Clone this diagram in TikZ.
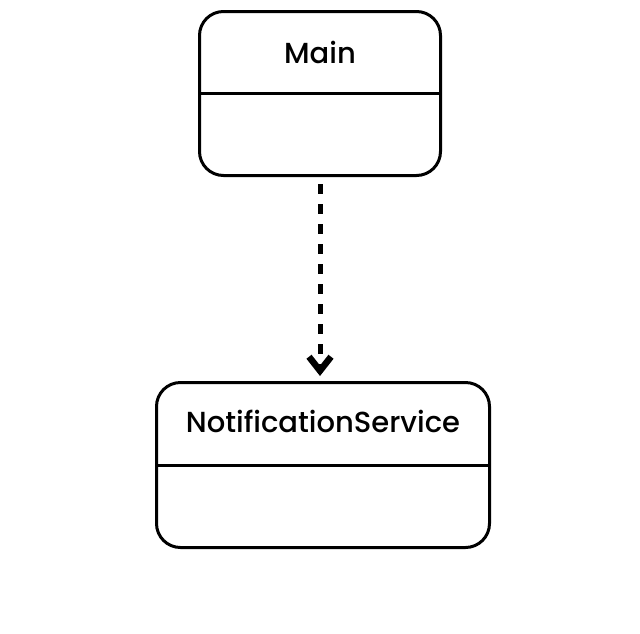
\documentclass[tikz,border=0pt]{standalone}
\usepackage{fontspec}
\setmainfont{Poppins}[UprightFont={* Medium}]
\usetikzlibrary{arrows.meta, calc}
\begin{document}
\begin{tikzpicture}[x=1pt, y=-1pt,
        classbox/.style={rectangle, draw, line width=3pt, rounded corners=24pt},
        classname/.style={draw=none, fill=none, font=\fontsize{29}{32}\selectfont},
        depends/.style={draw, line width=5pt, dash pattern=on 10pt off 10pt, -{Straight Barb[length=14pt, width=22pt, line width=6.5pt]}}
    ]
    \useasboundingbox (0,0) rectangle (640,633);
    % Classes
    \node[classbox, minimum width=241pt, minimum height=164pt] (main) at (320,93.5) {};
    \node[classbox, minimum width=333pt, minimum height=165pt] (notif) at (323,465) {};
    \node[classname] (mainname) at ($(main.north)!0.5!(main.center)+(0,1)$) {Main};
    \node[classname] (notifname) at ($(notif.north)!0.5!(notif.center)+(0,-2)$) {NotificationService};
    
    % Dividers
    \draw[line width=3pt] (main.west) -- (main.east);
    \draw[line width=3pt] (notif.west) -- (notif.east);
    
    % Dependency
    \draw[depends, shorten <=7pt, shorten >=5pt] (main.south) -- (notif.north -| main.south);
    
\end{tikzpicture}
\end{document}
